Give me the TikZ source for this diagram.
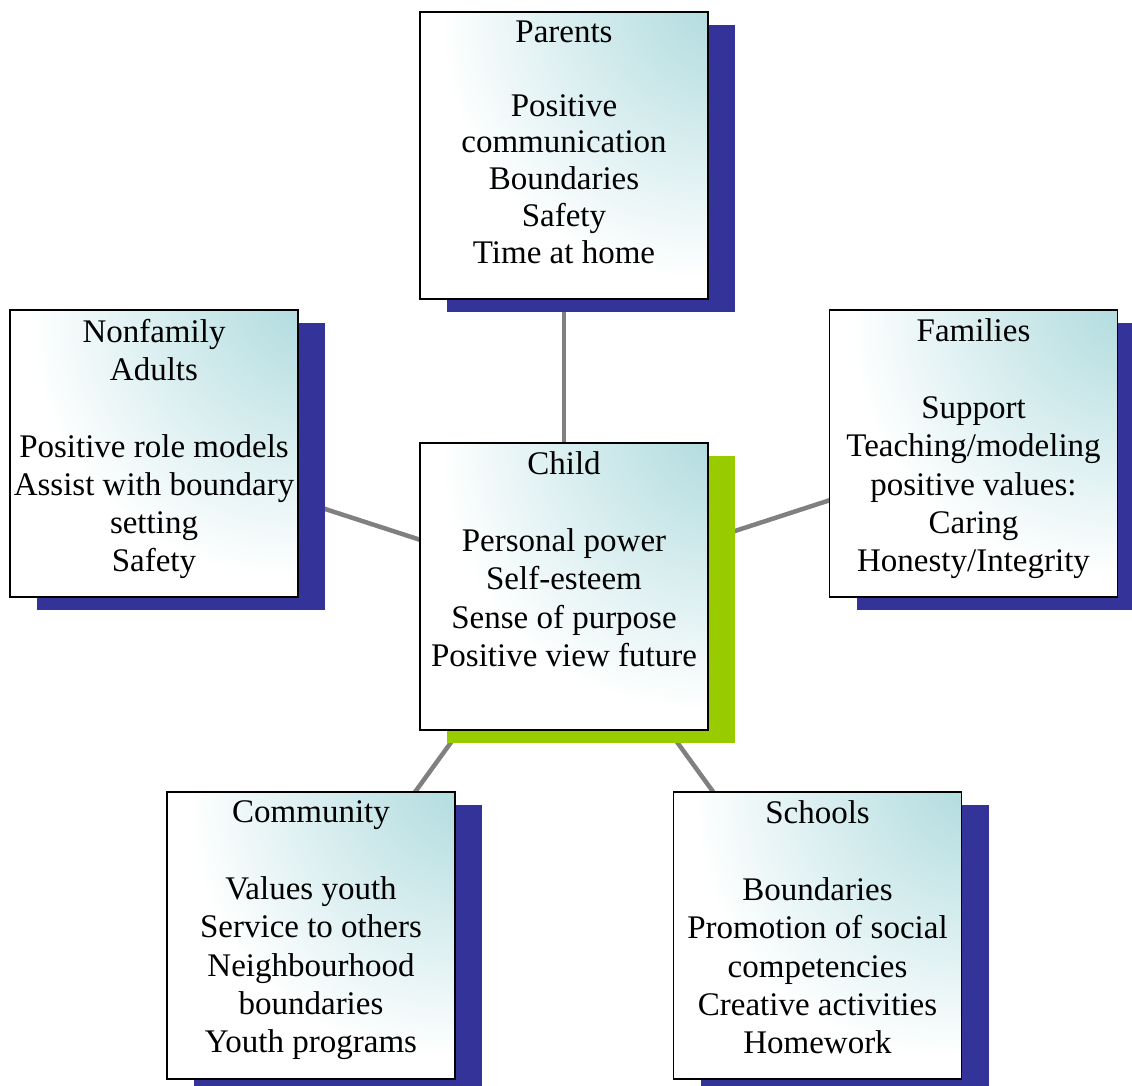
\documentclass[tikz,border=0pt]{standalone}
\usepackage{fontspec}
\setmainfont{Liberation Serif}
\usetikzlibrary{shadows,backgrounds}
\definecolor{boxteal}{RGB}{180,221,224}
\definecolor{shadenavy}{RGB}{51,51,153}
\definecolor{shadegreen}{RGB}{153,204,0}
\definecolor{linkgray}{RGB}{128,128,128}
\pgfdeclareradialshading{cornerglow}{\pgfpoint{32bp}{32bp}}{color(0bp)=(boxteal); color(8bp)=(boxteal); color(44bp)=(white); color(150bp)=(white)}

\begin{document}
\begin{tikzpicture}[x=1pt,y=-1pt,
  card/.style={draw=black, line width=1.5pt, minimum width=288pt, minimum height=287pt,
    inner sep=0pt, shading=cornerglow,
    drop shadow={shadow xshift=27pt, shadow yshift=-13pt, fill=#1, opacity=1}},
  card/.default=shadenavy,
  cardtext/.style={anchor=north, align=center, inner sep=0pt, yshift=-9.5pt,
    font=\fontsize{33}{38.3}\selectfont},
  link/.style={draw=linkgray, line width=4.5pt}]
\useasboundingbox (0,0) rectangle (1132,1086);

% centre
\node[card=shadegreen] (child) at (564,586.5) {};
\node[cardtext] (childtxt) at (child.north) {Child\\[38.3pt]Personal power\\Self-esteem\\Sense of purpose\\Positive view future};

% top
\node[card] (parents) at (564,155.5) {};
\node[cardtext, font=\fontsize{33}{36.8}\selectfont] (parentstxt) at (parents.north) {Parents\\[36.8pt]Positive\\communication\\Boundaries\\Safety\\Time at home};

% left and right
\node[card] (nonfamily) at (154,453.5) {};
\node[cardtext] (nonfamilytxt) at (nonfamily.north) {Nonfamily\\Adults\\[38.3pt]Positive role models\\Assist with boundary\\setting\\Safety};

\node[card] (families) at (973.5,453.5) {};
\node[cardtext] (familiestxt) at (families.north) {Families\\[38.3pt]Support\\Teaching/modeling\\positive values:\\Caring\\Honesty/Integrity};

% bottom
\node[card] (community) at (311,935.5) {};
\node[cardtext] (communitytxt) at (community.north) {Community\\[38.3pt]Values youth\\Service to others\\Neighbourhood\\boundaries\\Youth programs};

\node[card] (schools) at (817.5,935.5) {};
\node[cardtext] (schoolstxt) at (schools.north) {Schools\\[38.3pt]Boundaries\\Promotion of social\\competencies\\Creative activities\\Homework};

% spokes
\begin{scope}[on background layer]
\foreach \c in {parents,nonfamily,families,community,schools}
\draw[link] (child.center) -- (\c.center);
\end{scope}
\end{tikzpicture}
\end{document}
